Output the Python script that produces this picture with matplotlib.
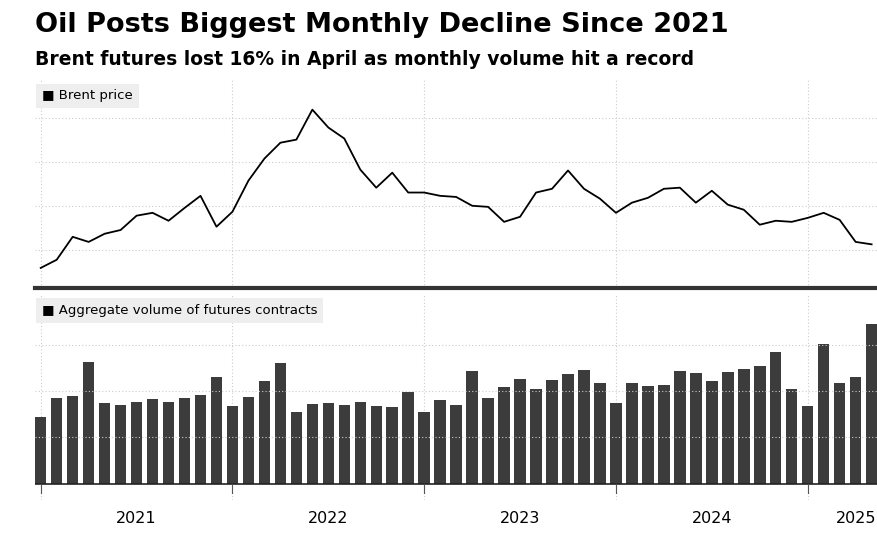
import matplotlib
matplotlib.use("Agg")
import matplotlib.pyplot as plt
import numpy as np

price = [51.8,55.5,65.9,63.6,67.3,69,75.5,76.8,73.2,79,84.5,70.5,77.3,91.4,101.4,108.6,110,123.6,115.5,110.5,
         96.4,88.2,95,86,86,84.5,84,80,79.5,72.7,75,86,87.7,96,87.7,83.2,76.8,81.4,83.6,87.7,88.2,81.4,86.8,
         80.5,78.2,71.4,73.2,72.7,74.5,76.8,73.6,63.6,62.5]
volume = [66,85,87,121,80,78,81,84,81,85,88,106,77,86,102,120,71,79,80,78,81,77,76,91,71,83,78,112,85,96,
          104,94,103,109,113,100,80,100,97,98,112,110,102,111,114,117,131,94,77,139,100,106,159]
years = ["2021","2022","2023","2024","2025"]
year_pos = [6,18,30,42,51]

fig = plt.figure(figsize=(8.78,5.45), dpi=100)
fig.text(0.04,0.955,"Oil Posts Biggest Monthly Decline Since 2021",fontsize=19.5,fontweight="bold",va="center")
fig.text(0.04,0.89,"Brent futures lost 16% in April as monthly volume hit a record",fontsize=13.5,fontweight="bold",va="center")

x = np.arange(len(price))
ax1 = fig.add_axes([0.04,0.4716,0.96,0.3814])
ax1.plot(x, price, color="black", lw=1.3)
ax1.set_ylim(42.7,137)
ax1.set_yticks([60,80,100,120])
ax2 = fig.add_axes([0.04,0.083,0.96,0.376])
ax2.bar(np.arange(len(volume)), volume, width=0.72, color="#3c3c3c")
ax2.set_ylim(-16,188)
ax2.set_yticks([46,92,138])
for ax in (ax1,ax2):
    ax.set_xlim(-0.35,52.4)
    for s in ax.spines.values(): s.set_visible(False)
    ax.grid(axis="y", color="#cccccc", lw=0.8, ls=(0,(1,2)))
    for b in [0,12,24,36,48]:
        ax.axvline(b, color="#cccccc", lw=0.8, ls=(0,(1,2)), zorder=0)
    ax.tick_params(left=False,labelleft=False,bottom=False,labelbottom=False)
ax1.axhline(42.7, color="#333333", lw=3, clip_on=False)
ax2.axhline(0, color="#222222", lw=1.2)
for b in [0,12,24,36,48]:
    ax2.plot([b,b],[0,-9], color="#555555", lw=0.8)
for yl,p in zip(years,year_pos):
    ax2.text(p,-27,yl,ha="center",va="top",fontsize=11.5)
for ax,txt in ((ax1,"Brent price"),(ax2,"Aggregate volume of futures contracts")):
    ax.text(0.008,0.955,"\u25A0 "+txt,transform=ax.transAxes,fontsize=9.5,va="top",
            bbox=dict(boxstyle="square,pad=0.45",fc="#eeeeee",ec="none"))
fig.savefig("out.png", dpi=100)
